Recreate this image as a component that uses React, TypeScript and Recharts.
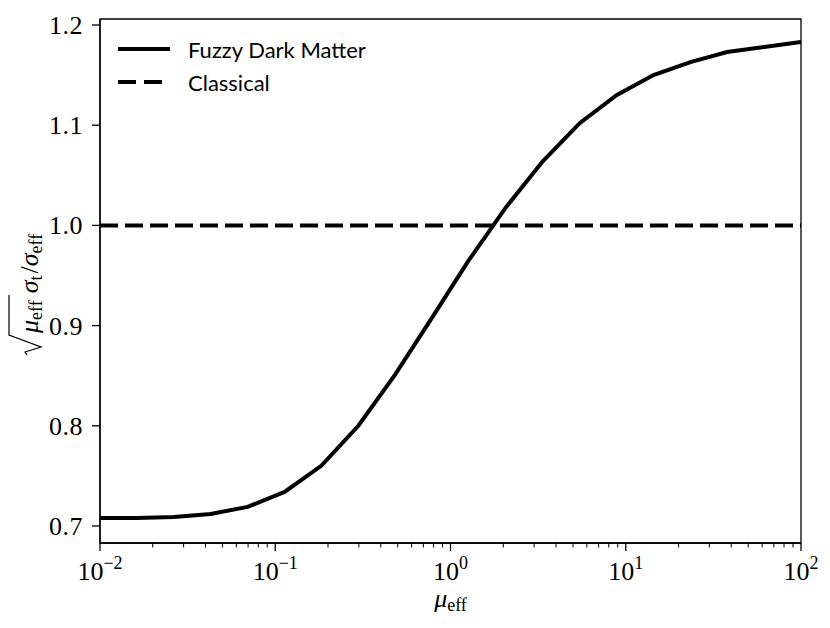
import React from 'react';
import { LineChart, Line, XAxis, YAxis, Legend, ReferenceArea } from 'recharts';

// mu_eff grid (log spaced)
const muVals = [
  0.01, 0.0162, 0.0264, 0.0428, 0.0695, 0.113, 0.183, 0.298, 0.483, 0.785,
  1.27, 2.07, 3.36, 5.46, 8.86, 14.4, 23.4, 37.9, 61.6, 100,
];
const fdmVals = [
  0.708, 0.708, 0.709, 0.712, 0.719, 0.734, 0.76, 0.8, 0.851, 0.908,
  0.965, 1.018, 1.064, 1.102, 1.13, 1.15, 1.163, 1.173, 1.178, 1.183,
];
const classicalVals = [
  1, 1, 1, 1, 1, 1, 1, 1, 1, 1,
  1, 1, 1, 1, 1, 1, 1, 1, 1, 1,
];

const xMajorTicks = [0.01, 0.1, 1, 10, 100];
const xExponents = ['\u22122', '\u22121', '0', '1', '2'];
const xMinorTicks = [0.01, 0.1, 1, 10].flatMap((d) => [2, 3, 4, 5, 6, 7, 8, 9].map((k) => d * k));
const yTicks = [0.7, 0.8, 0.9, 1.0, 1.1, 1.2];
const yDomain: [number, number] = [0.683, 1.206];
const xDomain: [number, number] = [0.01, 100];

const SERIF = '"Liberation Serif", "DejaVu Serif", serif';
const SANS = 'Lato, "Noto Sans", "DejaVu Sans", sans-serif';

const data = muVals.map((mu, i) => ({ mu, fdm: fdmVals[i], classical: classicalVals[i] }));

const legendOrder = ['fdm', 'classical'];
const seriesStyle: Record<string, { dash?: string; label: string }> = {
  fdm: { label: 'Fuzzy Dark Matter' },
  classical: { dash: '18 8', label: 'Classical' },
};

const XTick = (props: any) => {
  const { x, y, payload } = props;
  const idx = xMajorTicks.indexOf(payload.value);
  if (idx < 0) {
    return <line x1={x} y1={y} x2={x} y2={y + 4.5} stroke="#000" strokeWidth={1} />;
  }
  return (
    <g>
      <line x1={x} y1={y} x2={x} y2={y + 8} stroke="#000" strokeWidth={1.3} />
      <text x={x} y={y + 37} textAnchor="middle" fontFamily={SERIF} fontSize={26} fill="#000">
        <tspan>10</tspan>
        <tspan dy={-11} fontSize={18}>{xExponents[idx]}</tspan>
      </text>
    </g>
  );
};

const YTick = (props: any) => {
  const { x, y, payload } = props;
  return (
    <g>
      <line x1={x - 8} y1={y} x2={x} y2={y} stroke="#000" strokeWidth={1.3} />
      <text x={x - 17} y={y + 9} textAnchor="end" fontFamily={SERIF} fontSize={26} letterSpacing={0.5} fill="#000">
        {payload.value.toFixed(1)}
      </text>
    </g>
  );
};

const XLabel = (props: any) => {
  const vb = props.viewBox;
  return (
    <text x={vb.x + vb.width / 2} y={vb.y + 64} textAnchor="middle" fontFamily={SERIF} fontSize={26} fill="#000">
      <tspan fontStyle="italic">μ</tspan>
      <tspan fontSize={18} dy={4}>eff</tspan>
    </text>
  );
};

const YLabel = (props: any) => {
  const vb = props.viewBox;
  const cx = vb.x - 2;
  const cy = vb.y + vb.height / 2 + 74;
  return (
    <g transform={`translate(${cx},${cy}) rotate(-90)`}>
      <polyline
        points="0,-11 3,-13 8,3 20,-29 60,-29"
        fill="none"
        stroke="#000"
        strokeWidth={1.2}
      />
      <text x={22} y={0} fontFamily={SERIF} fontSize={26} fill="#000">
        <tspan fontStyle="italic">μ</tspan>
        <tspan fontSize={18} dy={4}>eff</tspan>
        <tspan fontStyle="italic" dy={-4} dx={7}>σ</tspan>
        <tspan fontSize={18} dy={4}>t</tspan>
        <tspan dy={-4} dx={2}>/</tspan>
        <tspan fontStyle="italic">σ</tspan>
        <tspan fontSize={18} dy={4}>eff</tspan>
      </text>
    </g>
  );
};

const LegendContent = (props: any) => {
  const items = [...(props.payload || [])].sort(
    (a: any, b: any) => legendOrder.indexOf(a.dataKey) - legendOrder.indexOf(b.dataKey)
  );
  return (
    <div>
      {items.map((entry: any) => {
        const st = seriesStyle[entry.dataKey] || { label: entry.value };
        return (
          <div key={entry.dataKey} style={{ display: 'flex', alignItems: 'center', height: 33 }}>
            <svg width={78} height={33}>
              <line
                x1={8}
                y1={16}
                x2={st.dash ? 53 : 60}
                y2={16}
                stroke="#000"
                strokeWidth={4}
                strokeDasharray={st.dash}
              />
            </svg>
            <span style={{ fontFamily: SANS, fontSize: 22, color: '#000', lineHeight: '33px' }}>{st.label}</span>
          </div>
        );
      })}
    </div>
  );
};

export default function App() {
  return (
    <div style={{ position: 'absolute', left: 0, top: 0, width: 830, height: 628, background: '#fff' }}>
      <LineChart width={830} height={628} data={data} margin={{ top: 19, right: 29, bottom: 0, left: 40 }}>
        <XAxis
          dataKey="mu"
          type="number"
          scale="log"
          domain={xDomain}
          allowDataOverflow
          ticks={[...xMajorTicks, ...xMinorTicks]}
          interval={0}
          tick={<XTick />}
          tickLine={false}
          tickSize={0}
          tickMargin={0}
          height={85}
          axisLine={{ stroke: '#000', strokeWidth: 1.3 }}
          label={<XLabel />}
        />
        <YAxis
          type="number"
          domain={yDomain}
          allowDataOverflow
          ticks={yTicks}
          interval={0}
          tick={<YTick />}
          tickLine={false}
          tickSize={0}
          tickMargin={0}
          width={60}
          axisLine={{ stroke: '#000', strokeWidth: 1.3 }}
          label={<YLabel />}
        />
        <ReferenceArea
          x1={xDomain[0]}
          x2={xDomain[1]}
          y1={yDomain[0]}
          y2={yDomain[1]}
          fill="none"
          stroke="#000"
          strokeWidth={1.3}
        />
        <Line
          dataKey="fdm"
          name="Fuzzy Dark Matter"
          type="linear"
          stroke="#000"
          strokeWidth={4}
          dot={false}
          isAnimationActive={false}
        />
        <Line
          dataKey="classical"
          name="Classical"
          type="linear"
          stroke="#000"
          strokeWidth={4}
          strokeDasharray="18 7"
          dot={false}
          isAnimationActive={false}
        />
        <Legend
          layout="horizontal"
          verticalAlign="middle"
          align="center"
          content={<LegendContent />}
          wrapperStyle={{ position: 'absolute', left: 110, top: 33, width: 320, height: 66 }}
        />
      </LineChart>
    </div>
  );
}
